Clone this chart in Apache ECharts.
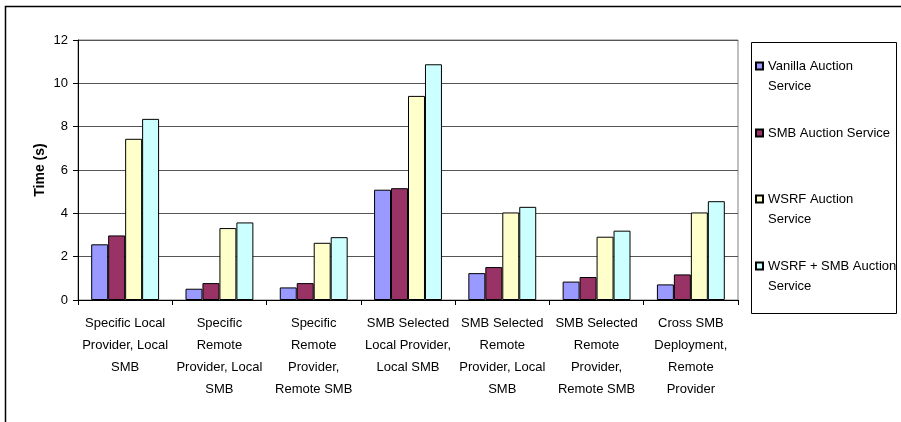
<!DOCTYPE html>
<html>
<head>
<meta charset="utf-8">
<script src="https://cdn.jsdelivr.net/npm/echarts@6/dist/echarts.min.js"></script>
<style>
  html, body { margin: 0; padding: 0; background: #fff; }
  #chart { width: 901px; height: 422px; }
</style>
</head>
<body>
<div id="chart"></div>
<script>
// Scenario labels along the x axis (line breaks as printed)
const categories = [
  'Specific Local\nProvider, Local\nSMB',
  'Specific\nRemote\nProvider, Local\nSMB',
  'Specific\nRemote\nProvider,\nRemote SMB',
  'SMB Selected\nLocal Provider,\nLocal SMB',
  'SMB Selected\nRemote\nProvider, Local\nSMB',
  'SMB Selected\nRemote\nProvider,\nRemote SMB',
  'Cross SMB\nDeployment,\nRemote\nProvider'
];

const seriesNames = [
  'Vanilla Auction Service',
  'SMB Auction Service',
  'WSRF Auction Service',
  'WSRF + SMB Auction Service'
];

// Legend text as wrapped in the legend box
const legendLabels = [
  'Vanilla Auction\nService',
  'SMB Auction Service',
  'WSRF Auction\nService',
  'WSRF + SMB Auction\nService'
];

// Times in seconds
const vanillaTimes = [2.57, 0.52, 0.58, 5.09, 1.24, 0.85, 0.72];
const smbTimes     = [2.98, 0.78, 0.78, 5.16, 1.52, 1.06, 1.18];
const wsrfTimes    = [7.44, 3.32, 2.64, 9.42, 4.04, 2.92, 4.04];
const wsrfSmbTimes = [8.36, 3.58, 2.90, 10.88, 4.30, 3.20, 4.56];

const yTicks = { min: 0, max: 12, interval: 2 };

const colors = ['#9999FF', '#993366', '#FFFFCC', '#CCFFFF'];
const FONT = '"Liberation Sans", Arial, sans-serif';

const values = [vanillaTimes, smbTimes, wsrfTimes, wsrfSmbTimes];

const chart = echarts.init(document.getElementById('chart'), null, { renderer: 'canvas' });

// One legend block per series so each entry can sit at its own height.
// Wrapped entries get a blank leading line so the swatch lines up with
// the first line of text instead of the middle of the block.
const legendTops = [36, 123, 169, 236];
const legends = seriesNames.map((name, i) => {
  const label = legendLabels[i];
  const text = label.indexOf('\n') >= 0 ? ' \n' + label : label;
  return {
    data: [name],
    left: 755,
    top: legendTops[i],
    padding: 0,
    icon: 'rect',
    itemWidth: 7,
    itemHeight: 7,
    selectedMode: false,
    formatter: () => text,
    textStyle: {
      fontFamily: FONT,
      fontSize: 13,
      color: '#000',
      lineHeight: 20
    }
  };
});

const option = {
  animation: false,
  backgroundColor: '#fff',
  textStyle: { fontFamily: FONT },
  grid: {
    left: 78, right: 163, top: 40, bottom: 122,
    show: true,
    borderColor: '#808080',
    borderWidth: 1
  },
  legend: legends,
  graphic: [
    // outer frame
    { type: 'rect', shape: { x: 5.5, y: 6.5, width: 1000, height: 1000 },
      style: { fill: null, stroke: '#000', lineWidth: 1.5 }, silent: true },
    // legend frame
    { type: 'rect', shape: { x: 751.5, y: 42.5, width: 145, height: 271 },
      style: { fill: null, stroke: '#000', lineWidth: 1 }, silent: true }
  ],
  xAxis: {
    type: 'category',
    data: categories,
    axisLine: { lineStyle: { color: '#000', width: 1 } },
    axisTick: { show: true, alignWithLabel: false, length: 5, lineStyle: { color: '#000' } },
    axisLabel: {
      interval: 0,
      margin: 12,
      fontFamily: FONT,
      fontSize: 13,
      lineHeight: 22,
      color: '#000',
      align: 'center'
    }
  },
  yAxis: {
    type: 'value',
    min: yTicks.min,
    max: yTicks.max,
    interval: yTicks.interval,
    name: 'Time (s)',
    nameLocation: 'middle',
    nameRotate: 90,
    nameGap: 31,
    nameMoveOverlap: false,
    nameTextStyle: { fontFamily: FONT, fontSize: 14, fontWeight: 'bold', color: '#000' },
    axisLine: { show: true, lineStyle: { color: '#000', width: 1 } },
    axisTick: { show: true, length: 5, lineStyle: { color: '#000' } },
    axisLabel: { margin: 10, fontFamily: FONT, fontSize: 13, color: '#000' },
    splitLine: { show: true, lineStyle: { color: '#555', width: 1 } }
  },
  series: seriesNames.map((name, i) => ({
    name: name,
    type: 'bar',
    data: values[i],
    barGap: '0%',
    barCategoryGap: '28%',
    itemStyle: { color: colors[i], borderColor: '#000', borderWidth: 1 }
  }))
};

chart.setOption(option);
</script>
</body>
</html>
